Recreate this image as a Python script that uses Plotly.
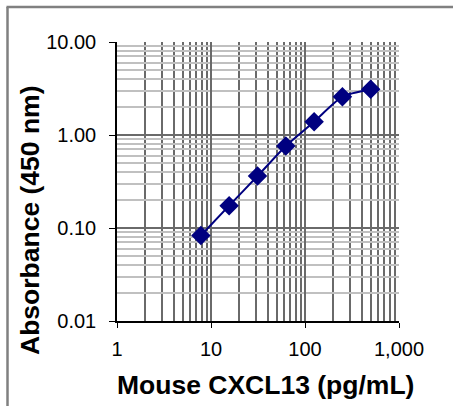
import plotly.graph_objects as go

concentration = [7.8, 15.6, 31.25, 62.5, 125, 250, 500]
absorbance = [0.083, 0.174, 0.362, 0.762, 1.39, 2.58, 3.10]

x_tick_vals = [1, 10, 100, 1000]
x_tick_text = ["1", "10", "100", "1,000"]
y_tick_vals = [0.01, 0.1, 1, 10]
y_tick_text = ["0.01", "0.10", "1.00", "10.00"]

W, H = 453, 406
L, R, T, B = 117, 399, 42, 321
pw, ph = R - L, B - T


def px(x):
    return (x - L) / pw


def py(y):
    return (B - y) / ph


fig = go.Figure()
fig.add_trace(go.Scatter(
    x=concentration, y=absorbance, mode="lines+markers",
    line=dict(color="#000080", width=2, shape="spline", smoothing=0.6),
    marker=dict(symbol="diamond", size=15, color="#000080"),
    showlegend=False,
))

font = "Liberation Sans, Arial, sans-serif"
fig.update_layout(
    width=W, height=H,
    margin=dict(l=L, r=W - R, t=T, b=H - B, pad=0),
    paper_bgcolor="white", plot_bgcolor="white",
    font=dict(family=font, color="black"),
    xaxis=dict(
        type="log", range=[0, 3],
        tickvals=x_tick_vals, ticktext=x_tick_text,
        ticks="outside", ticklen=5, tickcolor="black", tickwidth=1,
        showline=True, linecolor="black", linewidth=1.5,
        showgrid=True, gridcolor="#6a6a6a", gridwidth=1.5,
        minor=dict(showgrid=True, gridcolor="#6a6a6a", gridwidth=1.5, dtick="D1", ticks=""),
        tickfont=dict(size=20), ticklabelstandoff=4,
        zeroline=False,
    ),
    yaxis=dict(
        type="log", range=[-2, 1],
        tickvals=y_tick_vals, ticktext=y_tick_text,
        ticks="outside", ticklen=6, tickcolor="black", tickwidth=1,
        showline=True, linecolor="black", linewidth=1.5,
        showgrid=True, gridcolor="#6a6a6a", gridwidth=1.5,
        minor=dict(showgrid=True, gridcolor="#c0c0c0", gridwidth=1.5, dtick="D1", ticks=""),
        tickfont=dict(size=20), ticklabelstandoff=9,
        zeroline=False,
    ),
)

fig.add_annotation(text="<b>Mouse CXCL13 (pg/mL)</b>", xref="paper", yref="paper",
                   x=px(265), y=py(385), showarrow=False, font=dict(size=26.5),
                   xanchor="center", yanchor="middle")
fig.add_annotation(text="<b>Absorbance (450 nm)</b>", xref="paper", yref="paper",
                   x=px(30), y=py(220), showarrow=False, font=dict(size=26.5),
                   textangle=-90, xanchor="center", yanchor="middle")

# outer frame (partially visible, as in the reference)
frame = dict(color="#808080", width=2.5)
fig.add_shape(type="line", xref="paper", yref="paper", layer="above",
              x0=px(6.5), x1=px(W), y0=py(7), y1=py(7), line=frame)
fig.add_shape(type="line", xref="paper", yref="paper", layer="above",
              x0=px(7.5), x1=px(7.5), y0=py(7), y1=py(H), line=frame)

fig.write_html("out.html", config={"displayModeBar": False},
               post_script="document.body.style.margin='0px';")
